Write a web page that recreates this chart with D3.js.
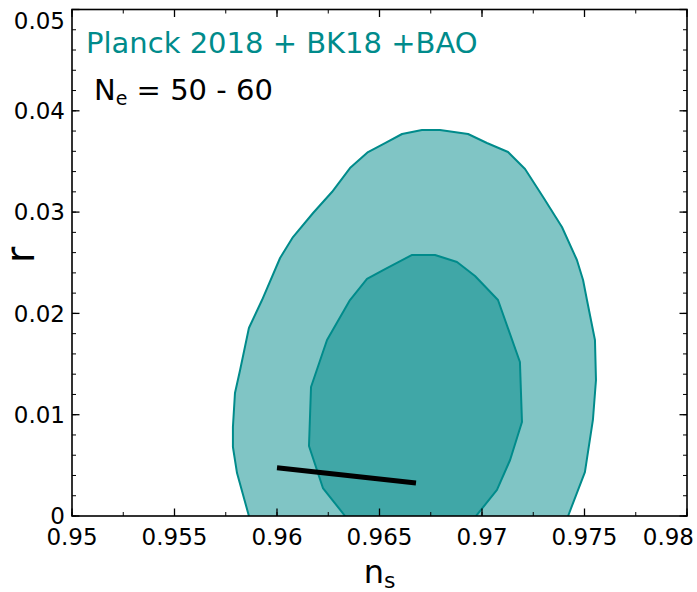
<!DOCTYPE html>
<html>
<head>
<meta charset="utf-8">
<script src="https://cdn.jsdelivr.net/npm/d3@7"></script>
<style>
body{margin:0;background:#fff;}
svg{display:block;font-family:"DejaVu Sans",sans-serif;}
</style>
</head>
<body>
<svg id="chart" width="697" height="592"></svg>
<script>
// ---- data ----
const outerNs = [0.95863,0.95805,0.95785,0.95785,0.95795,0.95820,0.95863,0.95927,0.96015,0.96078,0.96176,0.96268,0.96356,0.96444,0.96527,0.96610,0.96707,0.96795,0.96932,0.97024,0.97127,0.97210,0.97298,0.97390,0.97463,0.97493,0.97512,0.97551,0.97556,0.97541,0.97502,0.97420];
const outerR  = [0,0.00424,0.00681,0.00879,0.01214,0.01441,0.01856,0.02132,0.02547,0.02754,0.02991,0.03198,0.03435,0.03593,0.03682,0.03771,0.03810,0.03810,0.03771,0.03682,0.03593,0.03425,0.03149,0.02853,0.02527,0.02330,0.02132,0.01737,0.01343,0.00948,0.00434,0];
const innerNs = [0.96332,0.96224,0.96156,0.96166,0.96244,0.96356,0.96439,0.96527,0.96659,0.96771,0.96878,0.96966,0.97078,0.97185,0.97195,0.97137,0.97073,0.96971];
const innerR  = [0,0.00276,0.00691,0.01273,0.01737,0.02132,0.02340,0.02438,0.02577,0.02577,0.02507,0.02369,0.02132,0.01520,0.00928,0.00553,0.00257,0];
const modelNs = [0.96000,0.96678];
const modelR  = [0.00477,0.00326];
const xTicks = [0.95,0.955,0.96,0.965,0.97,0.975,0.98];
const xTickLabels = ["0.95","0.955","0.96","0.965","0.97","0.975","0.98"];
const yTicks = [0,0.01,0.02,0.03,0.04,0.05];
const yTickLabels = ["0","0.01","0.02","0.03","0.04","0.05"];
const titleText = "Planck 2018 + BK18 +BAO";

// ---- layout ----
const W = 697, H = 592;
const L = 72, R = 687, T = 9.5, B = 516;
const svg = d3.select("#chart");
const x = d3.scaleLinear().domain([0.95,0.98]).range([L,R]);
const y = d3.scaleLinear().domain([0,0.05]).range([B,T]);
const teal = "#008b8b";

svg.append("clipPath").attr("id","pc").append("rect")
  .attr("x",L).attr("y",T).attr("width",R-L).attr("height",B-T);
const g = svg.append("g").attr("clip-path","url(#pc)");

const line = d3.line().x(d=>x(d[0])).y(d=>y(d[1]));
const outer = outerNs.map((v,i)=>[v,outerR[i]]);
const inner = innerNs.map((v,i)=>[v,innerR[i]]);

g.append("path").attr("d",line(outer)+"Z").attr("fill","#80c5c5").attr("stroke","none");
g.append("path").attr("d",line(outer)).attr("fill","none").attr("stroke",teal).attr("stroke-width",2).attr("stroke-linejoin","round");
g.append("path").attr("d",line(inner)+"Z").attr("fill","#40a7a7").attr("stroke","none");
g.append("path").attr("d",line(inner)).attr("fill","none").attr("stroke",teal).attr("stroke-width",2).attr("stroke-linejoin","round");

const model = modelNs.map((v,i)=>[v,modelR[i]]);
g.append("path").attr("d",line(model)).attr("fill","none").attr("stroke","#000").attr("stroke-width",5);

// ---- axes ----
const minorX = d3.range(0,13).map(i=>0.95+i*0.0025);
const minorY = d3.range(0,26).map(i=>i*0.002);
const axG = svg.append("g").attr("stroke","#000");
function tick(x1,y1,x2,y2,w){axG.append("line").attr("x1",x1).attr("y1",y1).attr("x2",x2).attr("y2",y2).attr("stroke-width",w);}
minorX.forEach(v=>{tick(x(v),B,x(v),B-4,1);tick(x(v),T,x(v),T+4,1);});
xTicks.forEach(v=>{tick(x(v),B,x(v),B-7.5,1.3);tick(x(v),T,x(v),T+7.5,1.3);});
minorY.forEach(v=>{tick(L,y(v),L+4,y(v),1);tick(R,y(v),R-4,y(v),1);});
yTicks.forEach(v=>{tick(L,y(v),L+7.5,y(v),1.3);tick(R,y(v),R-7.5,y(v),1.3);});
svg.append("rect").attr("x",L).attr("y",T).attr("width",R-L).attr("height",B-T)
  .attr("fill","none").attr("stroke","#000").attr("stroke-width",1.6);

// tick labels
const xl = svg.append("g").attr("font-size",23).attr("fill","#000");
xTicks.forEach((v,i)=>{
  const t = xl.append("text").attr("x",x(v)).attr("y",B+29).attr("text-anchor","middle").text(xTickLabels[i]);
  const bb = t.node().getBBox();
  if(bb.x+bb.width>W-3) t.attr("x",x(v)-(bb.x+bb.width-(W-3)));
});
const yl = svg.append("g").attr("font-size",23).attr("fill","#000");
yTicks.forEach((v,i)=>{
  const t = yl.append("text").attr("x",L-7).attr("y",y(v)).attr("dy","0.36em").attr("text-anchor","end").text(yTickLabels[i]);
  const bb = t.node().getBBox();
  if(bb.y<8) t.attr("y",y(v)+(8-bb.y));
});

// axis labels
svg.append("text").attr("x",(L+R)/2).attr("y",583).attr("text-anchor","middle").attr("font-size",32)
  .html('n<tspan font-size="22" dy="5">s</tspan>');
svg.append("text").attr("transform","translate(34,255) rotate(-90)").attr("text-anchor","middle").attr("font-size",40).text("r");

// annotations
svg.append("text").attr("x",86).attr("y",53).attr("font-size",29).attr("fill",teal).text(titleText);
svg.append("text").attr("x",94).attr("y",100).attr("font-size",29).attr("fill","#000")
  .html('N<tspan font-size="19" dy="5">e</tspan><tspan dy="-5"> = 50 - 60</tspan>');
</script>
</body>
</html>
